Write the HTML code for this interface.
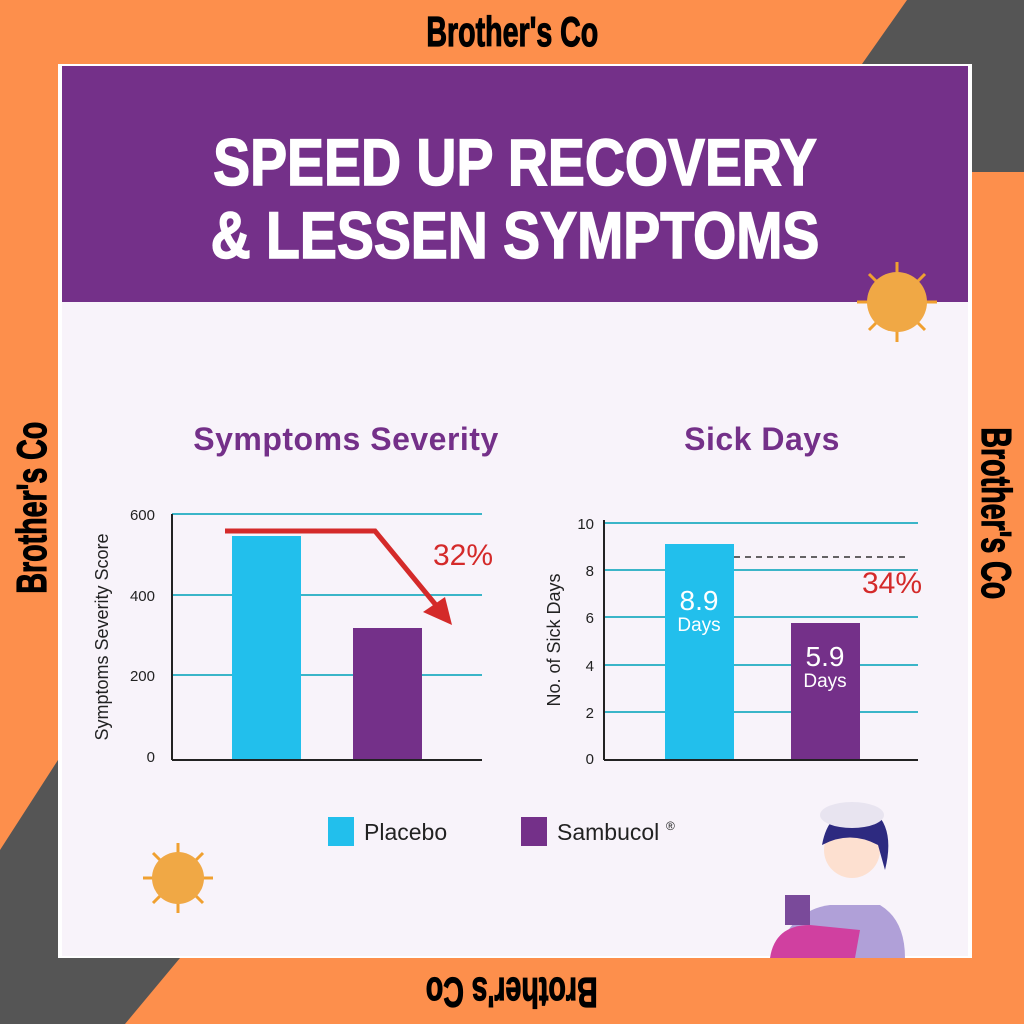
<!DOCTYPE html>
<html><head><style>
body{margin:0;width:1024px;height:1024px;overflow:hidden;background:#fd8f4c;position:relative;font-family:"Liberation Sans",sans-serif}
.wm{position:absolute;font-family:"Liberation Sans",sans-serif;font-weight:bold;font-size:42px;color:#000;transform-origin:center;line-height:46px;-webkit-text-stroke:1.2px #000}
.wm span{display:inline-block;transform:scaleX(0.68)}
</style></head><body>
<svg width="1024" height="1024" style="position:absolute;left:0;top:0">
<polygon points="907,0 1024,0 1024,172 972,172 972,64 862,64" fill="#555"/>
<polygon points="0,850 58,760 58,958 180,958 125,1024 0,1024" fill="#555"/>
<rect x="58" y="64" width="914" height="894" fill="#fff"/>
<rect x="62" y="66" width="906" height="236" fill="#743089"/>
<rect x="62" y="302" width="906" height="654" fill="#f8f3fa"/>
<g transform="translate(515,0) scale(0.84,1) translate(-515,0)">
<text x="515" y="185" text-anchor="middle" font-weight="bold" font-size="66" fill="#fff" stroke="#fff" stroke-width="1.5">SPEED UP RECOVERY</text>
<text x="515" y="258" text-anchor="middle" font-weight="bold" font-size="66" fill="#fff" stroke="#fff" stroke-width="1.5">&amp; LESSEN SYMPTOMS</text></g>
<g transform="translate(897,302)"><g stroke="#f0a030" stroke-width="3">
<line x1="-40" y1="0" x2="40" y2="0"/><line x1="0" y1="-40" x2="0" y2="40"/><line x1="-28" y1="-28" x2="28" y2="28"/><line x1="-28" y1="28" x2="28" y2="-28"/></g>
<circle r="30" fill="#f0a845"/></g>
<g transform="translate(178,878)"><g stroke="#f0a030" stroke-width="3">
<line x1="-35" y1="0" x2="35" y2="0"/><line x1="0" y1="-35" x2="0" y2="35"/><line x1="-25" y1="-25" x2="25" y2="25"/><line x1="-25" y1="25" x2="25" y2="-25"/></g>
<circle r="26" fill="#f0a845"/></g>
<text x="346" y="450" text-anchor="middle" font-weight="bold" font-size="32" fill="#743089" letter-spacing="0.5">Symptoms Severity</text>
<text x="762" y="450" text-anchor="middle" font-weight="bold" font-size="32" fill="#743089" letter-spacing="0.5">Sick Days</text>
<g stroke="#3bb5c8" stroke-width="2">
<line x1="172" y1="514" x2="482" y2="514"/><line x1="172" y1="595" x2="482" y2="595"/><line x1="172" y1="675" x2="482" y2="675"/>
<line x1="604" y1="523" x2="918" y2="523"/><line x1="604" y1="570" x2="918" y2="570"/><line x1="604" y1="617" x2="918" y2="617"/><line x1="604" y1="665" x2="918" y2="665"/><line x1="604" y1="712" x2="918" y2="712"/>
</g>
<rect x="232" y="536" width="69" height="224" fill="#22bfec"/>
<rect x="353" y="628" width="69" height="132" fill="#743089"/>
<rect x="665" y="544" width="69" height="216" fill="#22bfec"/>
<rect x="791" y="623" width="69" height="137" fill="#743089"/>
<g stroke="#222" stroke-width="2"><line x1="172" y1="514" x2="172" y2="760"/><line x1="172" y1="760" x2="482" y2="760"/>
<line x1="604" y1="520" x2="604" y2="760"/><line x1="604" y1="760" x2="918" y2="760"/></g>
<g font-size="15" fill="#222" text-anchor="end"><text x="155" y="520">600</text><text x="155" y="601">400</text><text x="155" y="681">200</text><text x="155" y="762">0</text>
<text x="594" y="529">10</text><text x="594" y="576">8</text><text x="594" y="623">6</text><text x="594" y="671">4</text><text x="594" y="718">2</text><text x="594" y="764">0</text></g>
<text transform="translate(108,637) rotate(-90)" text-anchor="middle" font-size="18" fill="#222">Symptoms Severity Score</text>
<text transform="translate(560,640) rotate(-90)" text-anchor="middle" font-size="18" fill="#222">No. of Sick Days</text>
<polyline points="225,531 375,531 440,610" fill="none" stroke="#d42a2a" stroke-width="5"/>
<polygon points="452,625 423,612 445,597" fill="#d42a2a"/>
<text x="463" y="565" text-anchor="middle" font-size="30" fill="#d42a2a">32%</text>
<line x1="734" y1="557" x2="910" y2="557" stroke="#333" stroke-width="1.5" stroke-dasharray="6,5"/>
<text x="892" y="593" text-anchor="middle" font-size="30" fill="#d42a2a">34%</text>
<text x="699" y="610" text-anchor="middle" font-size="28" fill="#fff">8.9</text>
<text x="699" y="631" text-anchor="middle" font-size="19" fill="#fff">Days</text>
<text x="825" y="666" text-anchor="middle" font-size="28" fill="#fff">5.9</text>
<text x="825" y="687" text-anchor="middle" font-size="19" fill="#fff">Days</text>
<rect x="328" y="817" width="26" height="29" fill="#22bfec"/>
<text x="364" y="840" font-size="23" fill="#222">Placebo</text>
<rect x="521" y="817" width="26" height="29" fill="#743089"/>
<text x="557" y="840" font-size="23" fill="#222">Sambucol</text><text x="666" y="830" font-size="12" fill="#222">®</text>
<path d="M775,958 Q790,910 830,905 L880,905 Q905,920 905,958 Z" fill="#b0a0d8"/>
<path d="M770,958 Q775,925 810,925 L860,930 L855,958 Z" fill="#d040a0"/>
<circle cx="852" cy="850" r="28" fill="#fde0d0"/>
<path d="M822,845 Q830,800 875,812 Q895,830 885,870 L878,845 Q850,830 822,845Z" fill="#2d2a80"/>
<ellipse cx="852" cy="815" rx="32" ry="13" fill="#e8e4f0"/>
<rect x="785" y="895" width="25" height="30" fill="#7a4a9a"/>
</svg>
<div class="wm" style="left:362px;top:9px;width:300px;text-align:center"><span>Brother's Co</span></div>
<div class="wm" style="left:362px;top:969px;width:300px;text-align:center;transform:rotate(180deg)"><span>Brother's Co</span></div>
<div class="wm" style="left:-118px;top:485px;width:300px;text-align:center;transform:rotate(-90deg)"><span>Brother's Co</span></div>
<div class="wm" style="left:846px;top:490px;width:300px;text-align:center;transform:rotate(90deg)"><span>Brother's Co</span></div>
</body></html>
